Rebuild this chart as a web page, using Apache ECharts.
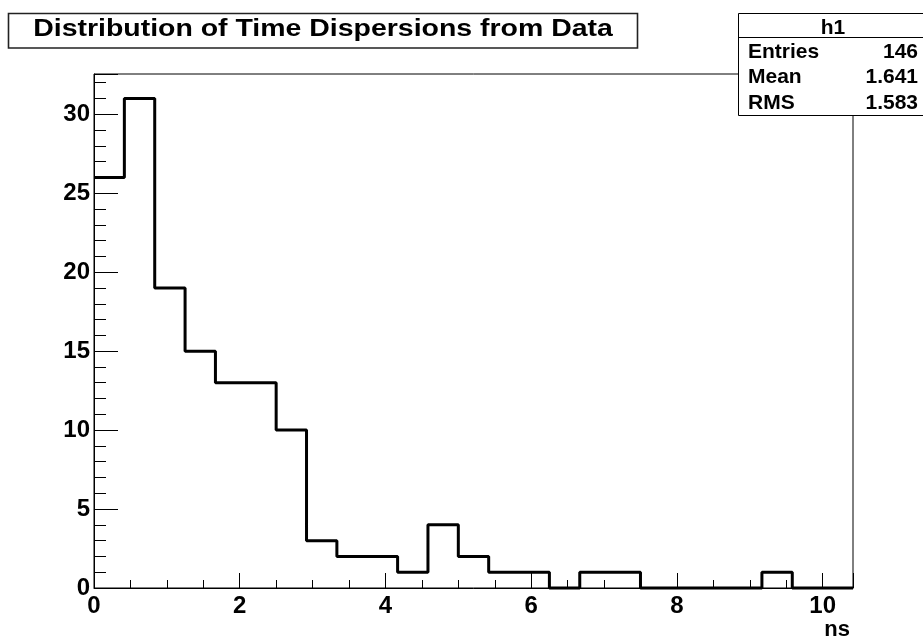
<!DOCTYPE html>
<html>
<head>
<meta charset="utf-8">
<title>Distribution of Time Dispersions from Data</title>
<script src="https://cdn.jsdelivr.net/npm/echarts@6/dist/echarts.min.js"></script>
<style>
  html, body { margin: 0; padding: 0; background: #fff; }
  #main { width: 923px; height: 640px; }
</style>
</head>
<body>
<div id="main"></div>
<script>
// histogram h1: 25 bins from 0 to 10.4167 ns
var xMin = 0;
var xMax = 125 / 12;
var counts = [26, 31, 19, 15, 13, 13, 10, 3, 2, 2, 1, 4, 2, 1, 1, 0, 1, 1, 0, 0, 0, 0, 1, 0, 0];
var statNames = ['Entries', 'Mean', 'RMS'];
var statValues = ['146', '1.641', '1.583'];
var titleText = 'Distribution of Time Dispersions from Data';
var xTitle = 'ns';

var binWidth = (xMax - xMin) / counts.length;
var stepData = counts.map(function (c, i) { return [xMin + i * binWidth, c]; });
stepData.push([xMax, counts[counts.length - 1]]);

var FONT = '"Liberation Sans", Arial, Helvetica, sans-serif';

var myChart = echarts.init(document.getElementById('main'));

var graphics = [
  // title box
  { type: 'rect', z: 100, shape: { x: 8.5, y: 13.5, width: 629, height: 34.5 },
    style: { fill: '#fff', stroke: '#222', lineWidth: 1.6 } },
  { type: 'text', z: 101, x: 323, y: 30, scaleX: 1.237,
    style: { text: titleText, fill: '#000', font: 'bold 23px ' + FONT, align: 'center', verticalAlign: 'middle' } },
  // stats box
  { type: 'rect', z: 100, shape: { x: 738.5, y: 13.5, width: 190, height: 102 },
    style: { fill: '#fff', stroke: '#000', lineWidth: 1 } },
  { type: 'line', z: 101, shape: { x1: 738, y1: 37.5, x2: 923, y2: 37.5 },
    style: { stroke: '#000', lineWidth: 1 } },
  { type: 'text', z: 101, x: 833, y: 28,
    style: { text: 'h1', fill: '#000', font: 'bold 21px ' + FONT, align: 'center', verticalAlign: 'middle' } },
  // x axis title
  { type: 'text', z: 101, x: 850, y: 630,
    style: { text: xTitle, fill: '#000', font: 'bold 22px ' + FONT, align: 'right', verticalAlign: 'middle' } }
];
var rowY = [52, 77, 103];
statNames.forEach(function (n, i) {
  graphics.push({ type: 'text', z: 101, x: 748, y: rowY[i],
    style: { text: n, fill: '#000', font: 'bold 21px ' + FONT, align: 'left', verticalAlign: 'middle' } });
  graphics.push({ type: 'text', z: 101, x: 918, y: rowY[i],
    style: { text: statValues[i], fill: '#000', font: 'bold 21px ' + FONT, align: 'right', verticalAlign: 'middle' } });
});

myChart.setOption({
  animation: false,
  backgroundColor: '#fff',
  grid: {
    left: 94, right: 70, top: 74, bottom: 52,
    show: true, borderColor: '#000', borderWidth: 1, backgroundColor: 'transparent'
  },
  xAxis: {
    type: 'value', min: xMin, max: xMax, interval: 2,
    axisLine: { show: true, onZero: false, lineStyle: { color: '#000', width: 1 } },
    axisTick: { show: true, inside: true, length: 15, lineStyle: { color: '#000', width: 1 } },
    minorTick: { show: true, splitNumber: 4, length: 8, lineStyle: { color: '#000', width: 1 } },
    splitLine: { show: false },
    axisLabel: {
      color: '#000', fontSize: 24, fontWeight: 'bold', fontFamily: FONT, margin: 6,
      formatter: function (v) { return Math.abs(v - Math.round(v)) < 1e-6 && Math.round(v) % 2 === 0 ? String(Math.round(v)) : ''; }
    }
  },
  yAxis: {
    type: 'value', min: 0, max: 32.55, interval: 5,
    axisLine: { show: true, lineStyle: { color: '#000', width: 1 } },
    axisTick: { show: true, inside: true, length: 24, lineStyle: { color: '#000', width: 1 } },
    minorTick: { show: true, splitNumber: 5, length: 12, lineStyle: { color: '#000', width: 1 } },
    splitLine: { show: false },
    axisLabel: {
      color: '#000', fontSize: 24, fontWeight: 'bold', fontFamily: FONT, margin: 4,
      formatter: function (v) { return Math.abs(v - Math.round(v)) < 1e-6 && Math.round(v) % 5 === 0 ? String(Math.round(v)) : ''; }
    }
  },
  series: [{
    name: 'h1',
    type: 'line',
    step: 'end',
    data: stepData,
    showSymbol: false,
    symbol: 'none',
    lineStyle: { color: '#000', width: 3 },
    clip: false
  }],
  graphic: graphics
});
</script>
</body>
</html>
